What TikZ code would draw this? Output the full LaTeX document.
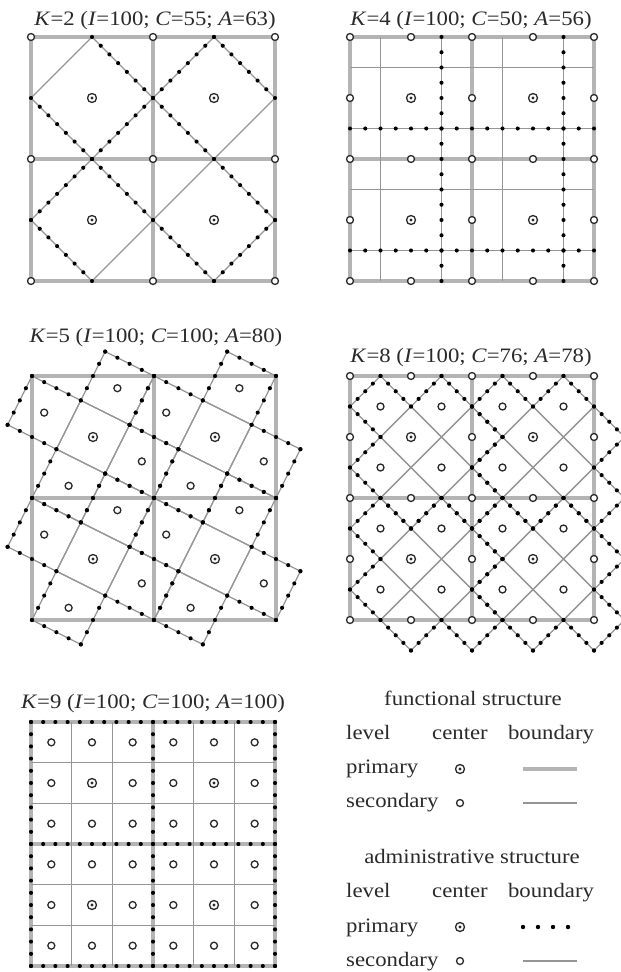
\documentclass[tikz,border=0pt]{standalone}
\usepackage{fontspec}
\setmainfont{Liberation Serif}[FakeStretch=1.11]
\usetikzlibrary{calc}
\definecolor{thickgray}{HTML}{B4B4B4}
\definecolor{thingray}{HTML}{959595}
\definecolor{ink}{HTML}{2A2A2A}
\tikzset{
  prim/.style={draw=thickgray, line width=4pt},
  secl/.style={draw=thingray, line width=1.15pt},
  circ/.style={draw=ink, fill=white, line width=1.3pt},
  lbl/.style={font=\fontsize{20.5}{24}\selectfont, text=ink, inner sep=0pt},
  ttl/.style={lbl, anchor=base},
  lft/.style={lbl, anchor=base west},
}
\newcommand\dotseg[3]{\foreach \k in {0,...,#3}{\fill[black] ($#1!\k/#3!#2$) circle (2.05pt);}}
\newcommand\dotpoly[2]{%
  \foreach \ax/\ay [remember=\ax as \bx (initially 0), remember=\ay as \by (initially 0), count=\cnt] in {#1}{%
    \ifnum\cnt>1 \dotseg{(\bx,\by)}{(\ax,\ay)}{#2}\fi
  }}
\newcommand\scen[1]{\draw[circ] #1 circle (3.5pt);}
\newcommand\pcen[1]{\draw[circ] #1 circle (4.5pt); \fill[ink] #1 circle (1.7pt);}
\begin{document}
\begin{tikzpicture}[x=1pt,y=-1pt]
\useasboundingbox (0,0) rectangle (621,972);
\clip (0,0) rectangle (621,972);

% ---------- titles ----------
\node[ttl] (t2) at (155,25) {\textit{K}=2 (\textit{I}=100; \textit{C}=55; \textit{A}=63)};
\node[ttl] (t4) at (471,25) {\textit{K}=4 (\textit{I}=100; \textit{C}=50; \textit{A}=56)};
\node[ttl] (t5) at (156,342) {\textit{K}=5 (\textit{I}=100; \textit{C}=100; \textit{A}=80)};
\node[ttl] (t8) at (471,362) {\textit{K}=8 (\textit{I}=100; \textit{C}=76; \textit{A}=78)};
\node[ttl] (t9) at (153,708) {\textit{K}=9 (\textit{I}=100; \textit{C}=100; \textit{A}=100)};

% ---------- K=2 ----------
\begin{scope}[shift={(31pt,-37pt)}, x=122pt, y=-122pt]
  \draw[prim] (0,0) rectangle (2,2) (1,0) -- (1,2) (0,1) -- (2,1);
  \foreach \cx/\cy in {0.5/0.5,1.5/0.5,0.5/1.5,1.5/1.5}
    \draw[secl] ({\cx},{\cy-0.5}) -- ({\cx+0.5},{\cy}) -- ({\cx},{\cy+0.5}) -- ({\cx-0.5},{\cy}) -- cycle;
  \dotseg{(0.5,0)}{(1,0.5)}{7} \dotseg{(1,0.5)}{(0.5,1)}{7} \dotseg{(0.5,1)}{(0,0.5)}{7}
  \dotseg{(1,0.5)}{(1.5,0)}{7} \dotseg{(1.5,0)}{(2,0.5)}{7} \dotseg{(1.5,1)}{(1,0.5)}{7}
  \dotseg{(0,1.5)}{(0.5,1)}{7} \dotseg{(0.5,1)}{(1,1.5)}{7} \dotseg{(0.5,2)}{(0,1.5)}{7}
  \dotseg{(1.5,1)}{(2,1.5)}{7} \dotseg{(2,1.5)}{(1.5,2)}{7} \dotseg{(1.5,2)}{(1,1.5)}{7}
  \foreach \i in {0,1,2} \foreach \j in {0,1,2} {\scen{(\i,\j)}}
  \foreach \cx/\cy in {0.5/0.5,1.5/0.5,0.5/1.5,1.5/1.5} {\pcen{(\cx,\cy)}}
\end{scope}

% ---------- K=4 ----------
\begin{scope}[shift={(350pt,-37pt)}, x=122pt, y=-122pt]
  \draw[prim] (0,0) rectangle (2,2) (1,0) -- (1,2) (0,1) -- (2,1);
  \foreach \t in {0.25,0.75,1.25,1.75} {\draw[secl] (\t,0) -- (\t,2); \draw[secl] (0,\t) -- (2,\t);}
  \foreach \t in {0.75,1.75} {\dotseg{(\t,0)}{(\t,2)}{16} \dotseg{(0,\t)}{(2,\t)}{16}}
  \foreach \i in {0,...,4} \foreach \j in {0,...,4} {
    \pgfmathtruncatemacro\odd{mod(\i,2)*mod(\j,2)}
    \ifnum\odd=0 \scen{({\i/2},{\j/2})}\fi}
  \foreach \cx/\cy in {0.5/0.5,1.5/0.5,0.5/1.5,1.5/1.5} {\pcen{(\cx,\cy)}}
\end{scope}

% ---------- K=5 ----------
\begin{scope}[shift={(32pt,-376pt)}, x=122pt, y=-122pt]
  \draw[prim] (0,0) rectangle (2,2) (1,0) -- (1,2) (0,1) -- (2,1);
  \foreach \cx/\cy in {0.5/0.5,1.5/0.5,0.5/1.5,1.5/1.5} {
    \begin{scope}[shift={(\cx,\cy)}]
      \foreach \px/\py in {0/0,0.2/-0.4,0.4/0.2,-0.2/0.4,-0.4/-0.2}
        \draw[secl] ({\px+0.1},{\py+0.3}) -- ({\px+0.3},{\py-0.1}) -- ({\px-0.1},{\py-0.3}) -- ({\px-0.3},{\py+0.1}) -- cycle;
      \dotpoly{0.1/-0.7,0.5/-0.5,0.3/-0.1,0.7/0.1,0.5/0.5,0.1/0.3,-0.1/0.7,-0.5/0.5,-0.3/0.1,-0.7/-0.1,-0.5/-0.5,-0.1/-0.3,0.1/-0.7}{4}
    \end{scope}}
  \foreach \cx/\cy in {0.5/0.5,1.5/0.5,0.5/1.5,1.5/1.5} {
    \begin{scope}[shift={(\cx,\cy)}]
      \foreach \px/\py in {0.2/-0.4,0.4/0.2,-0.2/0.4,-0.4/-0.2} {\scen{(\px,\py)}}
      \pcen{(0,0)}
    \end{scope}}
\end{scope}

% ---------- K=8 ----------
\begin{scope}[shift={(350pt,-376pt)}, x=122pt, y=-122pt]
  \draw[prim] (0,0) rectangle (2,2) (1,0) -- (1,2) (0,1) -- (2,1);
  \foreach \tx/\ty in {0/0,1/0,0/1,1/1} {
    \begin{scope}[shift={(\tx,\ty)}]
      \foreach \px/\py in {0.25/0.25,0.5/0.5,0.75/0.75,1/1,0.75/0.25,1/0.5,0.25/0.75,0.5/1}
        \draw[secl] ({\px},{\py-0.25}) -- ({\px+0.25},{\py}) -- ({\px},{\py+0.25}) -- ({\px-0.25},{\py}) -- cycle;
      \dotpoly{0.25/0,0.5/0.25,0.75/0,1/0.25,1.25/0.5,1/0.75,1.25/1,1/1.25,0.75/1,0.5/1.25,0.25/1,0/0.75,0.25/0.5,0/0.25,0.25/0}{4}
    \end{scope}}
  \foreach \i in {0,...,4} \foreach \j in {0,...,4} {
    \pgfmathtruncatemacro\odd{mod(\i,2)*mod(\j,2)}
    \ifnum\odd=0 \scen{({\i/2},{\j/2})}\fi}
  \foreach \i in {0,...,3} \foreach \j in {0,...,3} {\scen{({0.25+\i/2},{0.25+\j/2})}}
  \foreach \cx/\cy in {0.5/0.5,1.5/0.5,0.5/1.5,1.5/1.5} {\pcen{(\cx,\cy)}}
\end{scope}

% ---------- K=9 ----------
\begin{scope}[shift={(31pt,-722pt)}, x=122pt, y=-122pt]
  \draw[prim] (0,0) rectangle (2,2) (1,0) -- (1,2) (0,1) -- (2,1);
  \foreach \t in {1,2,4,5} {\draw[secl] ({\t/3},0) -- ({\t/3},2); \draw[secl] (0,{\t/3}) -- (2,{\t/3});}
  \foreach \t in {0,1,2} {\dotseg{(\t,0)}{(\t,2)}{20} \dotseg{(0,\t)}{(2,\t)}{20}}
  \foreach \i in {0,...,5} \foreach \j in {0,...,5} {\scen{({(2*\i+1)/6},{(2*\j+1)/6})}}
  \foreach \cx/\cy in {0.5/0.5,1.5/0.5,0.5/1.5,1.5/1.5} {\pcen{(\cx,\cy)}}
\end{scope}

% ---------- legend ----------
\node[ttl] (lf) at (473,705) {functional structure};
\node[lft] (lf1) at (346,739) {level};
\node[ttl] (lf2) at (460,739) {center};
\node[ttl] (lf3) at (551,739) {boundary};
\node[lft] (lf4) at (346,773) {primary};
\node[lft] (lf5) at (346,807) {secondary};
\pcen{(460,769)}
\coordinate (fpa) at (523,769); \coordinate (fpb) at (577,769);
\draw[prim] (fpa) -- (fpb);
\scen{(460,803)}
\coordinate (fsa) at (523,803); \coordinate (fsb) at (577,803);
\draw[secl] (fsa) -- (fsb);

\node[ttl] (la) at (472,863) {administrative structure};
\node[lft] (la1) at (346,897) {level};
\node[ttl] (la2) at (460,897) {center};
\node[ttl] (la3) at (551,897) {boundary};
\node[lft] (la4) at (346,932) {primary};
\node[lft] (la5) at (346,966) {secondary};
\pcen{(460,927)}
\foreach \x in {523,538,553,568} {\fill[black] (\x,927) circle (2.2pt);}
\scen{(460,961)}
\coordinate (asa) at (523,961); \coordinate (asb) at (577,961);
\draw[secl] (asa) -- (asb);
\end{tikzpicture}
\end{document}
